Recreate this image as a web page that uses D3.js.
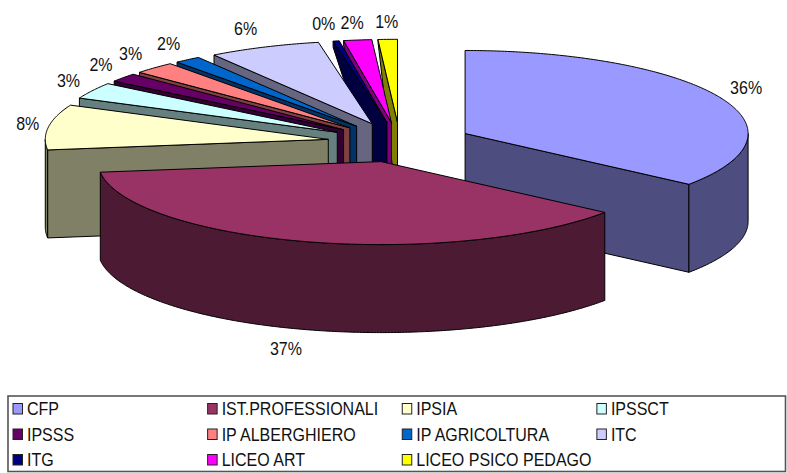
<!DOCTYPE html>
<html><head><meta charset="utf-8">
<script src="https://cdn.jsdelivr.net/npm/d3@7/dist/d3.min.js"></script>
<style>html,body{margin:0;background:#fff}svg{display:block}text{font-family:"Liberation Sans",Arial,sans-serif;font-size:17.5px;fill:#111}</style>
</head><body><svg id="c" width="787" height="473"></svg>
<script>
const categories=["CFP","IST.PROFESSIONALI","IPSIA","IPSSCT","IPSSS","IP ALBERGHIERO","IP AGRICOLTURA","ITC","ITG","LICEO ART","LICEO PSICO PEDAGO"];
const values=[35.5,37.5,8.8,3.2,1.7,2.4,1.5,6.4,0.35,1.6,1.1];
const percentLabels=["36%","37%","8%","3%","2%","3%","2%","6%","0%","2%","1%"];
const topColors=["#9999FF","#993366","#FFFFCC","#CCFFFF","#660066","#FF8080","#0066CC","#CCCCFF","#000080","#FF00FF","#FFFF00"];
const sideColors=["#4D4D80","#4D1A33","#808066","#668080","#330033","#804040","#003366","#666680","#000040","#800080","#808000"];
const labelNudge=[[0,0],[-13,0],[9,0],[2,0],[1,0],[-3,0],[-1,0],[-7,0],[-7,3],[-2,3],[0,2]];

const svg=d3.select("#c");
const cx=400,cy=142.3,rx=283,ry=83,depth=88,exX=72.5,exY=20;
const pie=d3.pie().sort(null).value(d=>d)(values);
const pt=(o,t,R=rx,r=ry)=>[o[0]+R*Math.sin(t),o[1]-r*Math.cos(t)];
const slices=pie.map((p,i)=>{
  const mid=(p.startAngle+p.endAngle)/2;
  return {i,a0:p.startAngle,a1:p.endAngle,mid,o:[cx+exX*Math.sin(mid),cy-exY*Math.cos(mid)]};
});
function arcPts(o,a0,a1,dy=0){
  const n=Math.max(2,Math.ceil((a1-a0)/0.01)),out=[];
  d3.range(n+1).forEach(k=>{const q=pt(o,a0+(a1-a0)*k/n);out.push([q[0],q[1]+dy]);});
  return out;
}
const line=d3.line();
function wall(g,s,a){
  const e=pt(s.o,a);
  const away=(2*Math.PI-a)*180/Math.PI;
  const far=away<20?depth*away/160:depth;
  g.append("path").attr("d",line([s.o,e,[e[0],e[1]+far],[s.o[0],s.o[1]+depth]])+"Z")
   .attr("fill",sideColors[s.i]).attr("stroke","#000").attr("stroke-width",1).attr("stroke-linejoin","round");
}
const order=slices.slice().sort((a,b)=>a.o[1]-b.o[1]||b.a0-a.a0);
const plot=svg.append("g");
order.forEach(s=>{
  const g=plot.append("g");
  if(Math.sin(s.a0)<0) wall(g,s,s.a0);
  if(Math.sin(s.a1)>0) wall(g,s,s.a1);
  const v0=Math.max(s.a0,Math.PI/2),v1=Math.min(s.a1,3*Math.PI/2);
  if(v1>v0){
    const top=arcPts(s.o,v0,v1),bot=arcPts(s.o,v0,v1,depth).reverse();
    g.append("path").attr("d",line(top.concat(bot))+"Z").attr("fill",sideColors[s.i])
     .attr("stroke","#000").attr("stroke-width",1).attr("stroke-linejoin","round");
  }
  g.append("path").attr("d",line([s.o].concat(arcPts(s.o,s.a0,s.a1)))+"Z").attr("fill",topColors[s.i])
   .attr("stroke","#000").attr("stroke-width",1).attr("stroke-linejoin","round");
});
const squeeze=0.915;
function putText(sel,x,y){return sel.attr("transform",`translate(${x},${y}) scale(${squeeze},1)`).attr("dy","0.35em");}
slices.forEach(s=>{
  const q=pt(s.o,s.mid,rx+30,ry+20);
  const y=q[1]+(Math.cos(s.mid)<0?depth:0);
  putText(svg.append("text").attr("text-anchor","middle").text(percentLabels[s.i]),q[0]+labelNudge[s.i][0],y+labelNudge[s.i][1]);
});
// legend
const lg=svg.append("g");
lg.append("rect").attr("x",8).attr("y",396).attr("width",777.5).attr("height",75.5).attr("fill","#fff").attr("stroke","#555").attr("stroke-width",1.6);
const colX=d3.scaleBand().domain(d3.range(4)).range([12.5,791]);
const rowY=d3.scalePoint().domain(d3.range(3)).range([409,460]);
categories.forEach((c,i)=>{
  const x=colX(i%4),y=rowY(Math.floor(i/4));
  lg.append("rect").attr("x",x+.5).attr("y",y-5.5).attr("width",9.5).attr("height",10.5).attr("fill",topColors[i]).attr("stroke","#222");
  putText(lg.append("text").text(c),x+14.5,y);
});
</script></body></html>
